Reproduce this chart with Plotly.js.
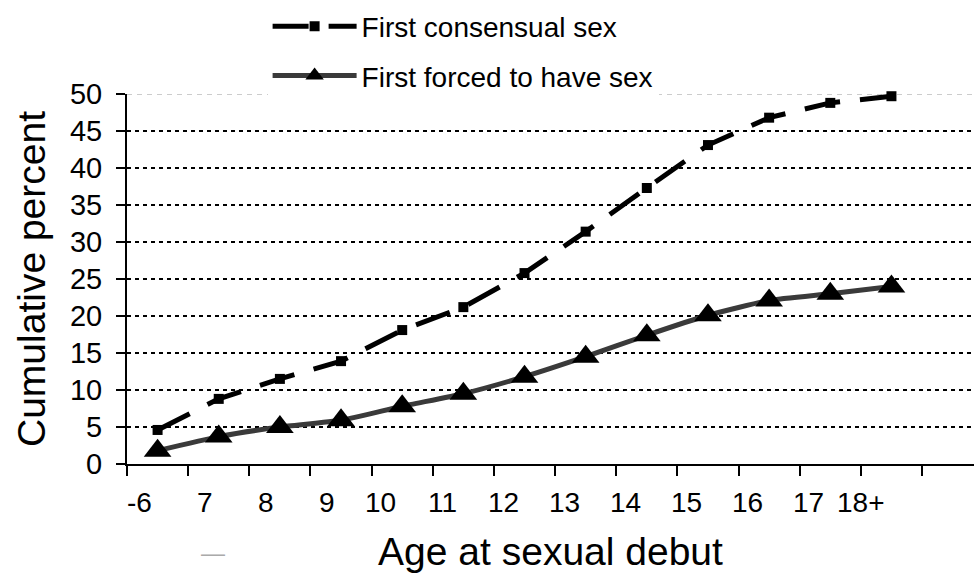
<!DOCTYPE html>
<html><head><meta charset="utf-8">
<script src="https://cdn.plot.ly/plotly-3.0.1.min.js"></script>
<style>html,body{margin:0;padding:0;background:#fff}#chart{width:974px;height:573px}</style>
</head><body><div id="chart"></div>
<script>
const ageLabels = ['-6','7','8','9','10','11','12','13','14','15','16','17','18+'];
const consensual = [4.6, 8.8, 11.5, 13.9, 18.1, 21.2, 25.8, 31.4, 37.3, 43.1, 46.8, 48.8, 49.7];
const forced = [1.8, 3.7, 5.0, 5.9, 7.8, 9.5, 11.8, 14.5, 17.4, 20.1, 22.1, 23.0, 24.0];
const yTicks = [0, 5, 10, 15, 20, 25, 30, 35, 40, 45, 50];
const gridTicks = [5, 10, 15, 20, 25, 30, 35, 40, 45];
const topGrid = [50];
const seriesNames = ['First consensual sex', 'First forced to have sex'];
const xTitle = 'Age at sexual debut';
const yTitle = 'Cumulative percent';

const FONT = 'Liberation Sans, Arial, sans-serif';

const traces = [
  {
    x: ageLabels, y: consensual, name: seriesNames[0], type: 'scatter', mode: 'lines+markers',
    legendgroup: 'a',
    line: {color: '#000', width: 5, dash: '36px,20px'},
    marker: {symbol: 'square', size: 10, color: '#000'},
    cliponaxis: false
  },
  {
    x: ageLabels, y: forced, name: seriesNames[1], type: 'scatter', mode: 'lines+markers',
    yaxis: 'y2', legendgroup: 'b',
    line: {color: '#3a3a3a', width: 5, shape: 'spline', smoothing: 0.5},
    marker: {symbol: 'triangle-up', size: 24, color: '#000'},
    cliponaxis: false
  }
];

// x tick labels, right-aligned just left of each category centre (category index positions)
const xLabelAnnotations = ageLabels.map((lab, i) => ({
  text: lab, x: i, xref: 'x', y: -0.103, yref: 'paper',
  xanchor: 'right', yanchor: 'middle', xshift: -4, showarrow: false,
  font: {family: FONT, size: 28, color: '#000'}
}));

const layout = {
  width: 974, height: 573,
  margin: {l: 127, r: 0, t: 94, b: 109},
  paper_bgcolor: '#fff', plot_bgcolor: 'rgba(0,0,0,0)',
  font: {family: FONT, color: '#000', size: 28},
  showlegend: true,
  legend: {
    x: 0.166, xanchor: 'left', y: 1.25, yanchor: 'top',
    bgcolor: '#fff', borderwidth: 0,
    font: {family: FONT, size: 28, color: '#000'},
    itemwidth: 84, tracegroupgap: 10, traceorder: 'grouped'
  },
  xaxis: {
    type: 'category', categoryorder: 'array', categoryarray: ageLabels,
    range: [-0.5, 13.35], tickson: 'boundaries',
    ticks: 'outside', ticklen: 10, tickwidth: 2, tickcolor: '#000',
    showline: true, linecolor: '#000', linewidth: 2,
    showgrid: false, zeroline: false, showticklabels: false,
    title: {text: xTitle, font: {family: FONT, size: 39, color: '#000'}, standoff: 74}
  },
  yaxis: {
    range: [0, 50], tickmode: 'array', tickvals: yTicks,
    ticks: 'outside', ticklen: 9, tickwidth: 2, tickcolor: '#000',
    showline: true, linecolor: '#000', linewidth: 2,
    showgrid: false, zeroline: false, ticklabelstandoff: 8,
    tickfont: {family: FONT, size: 29, color: '#000'},
    title: {text: yTitle, font: {family: FONT, size: 39, color: '#000'}, standoff: 12}
  },
  yaxis2: {
    overlaying: 'y', range: [0, 50], tickmode: 'array', tickvals: gridTicks,
    showgrid: true, gridcolor: '#000', gridwidth: 2, griddash: '4px,4px',
    showticklabels: false, ticks: '', showline: false, zeroline: false
  },
  shapes: topGrid.map(v => ({
    type: 'line', xref: 'paper', x0: 0, x1: 1, yref: 'y', y0: v, y1: v, layer: 'below',
    line: {color: '#999', width: 1, dash: '5px,5px'}
  })),
  annotations: xLabelAnnotations.concat([
    {text: '—', xref: 'paper', yref: 'paper', x: 0.085, y: -0.238, yanchor: 'middle', showarrow: false,
     font: {family: FONT, size: 24, color: '#aaa'}}
  ])
};

Plotly.newPlot('chart', traces, layout, {displayModeBar: false, staticPlot: true});
</script></body></html>
